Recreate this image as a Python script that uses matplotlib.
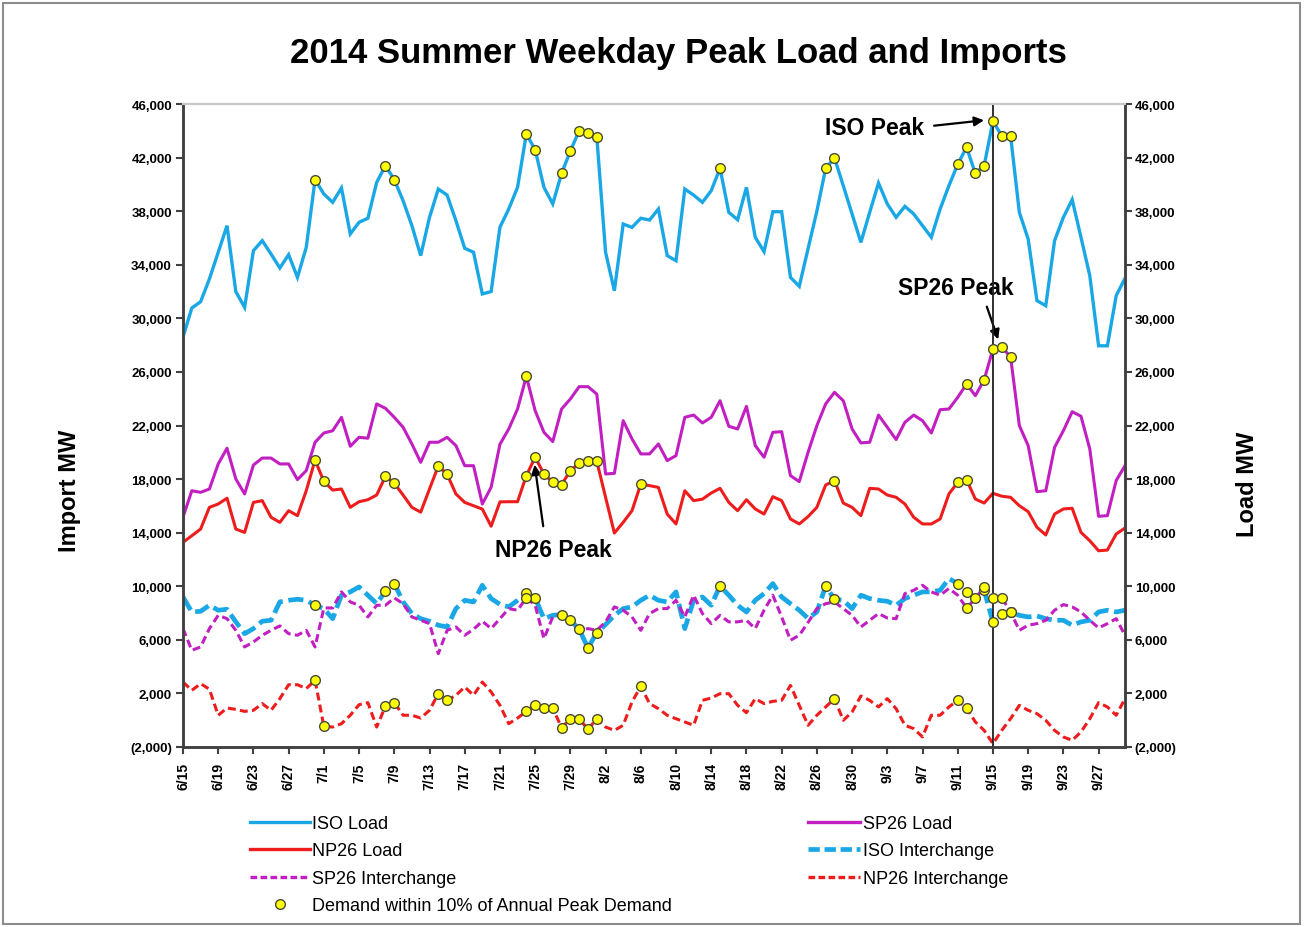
import numpy as np
import matplotlib
matplotlib.use("Agg")
import matplotlib.pyplot as plt
from matplotlib.lines import Line2D
from matplotlib.patches import Rectangle

plt.rcParams['font.family'] = ['Liberation Sans', 'DejaVu Sans']

# ---------------- data (daily, 6/15 .. 9/30) ----------------
tick_labels = ['6/15', '6/19', '6/23', '6/27', '7/1', '7/5', '7/9', '7/13', '7/17',
               '7/21', '7/25', '7/29', '8/2', '8/6', '8/10', '8/14', '8/18', '8/22',
               '8/26', '8/30', '9/3', '9/7', '9/11', '9/15', '9/19', '9/23', '9/27']

iso_load = [28600, 30770, 31240, 32940, 34930, 36920, 31990, 30820, 35050, 35800,
            34800, 33760, 34750, 33060, 35300, 40350, 39280, 38660, 39730, 36300,
            37170, 37470, 40150, 41400, 40350, 38780, 36920, 34680, 37540, 39650,
            39200, 37290, 35230, 34930, 31820, 32000, 36800, 38160, 39780, 43760,
            42590, 39780, 38540, 40820, 42490, 44010, 43840, 43560, 34930, 32060,
            37040, 36790, 37470, 37340, 38160, 34680, 34300, 39650, 39200, 38660,
            39530, 41200, 37910, 37360, 39780, 36050, 34980, 37960, 37960, 33060,
            32390, 35200, 38000, 41200, 41970, 39900, 37790, 35670, 37910, 40100,
            38540, 37540, 38360, 37790, 36920, 36050, 38160, 39900, 41500, 42770,
            40820, 41400, 44700, 43640, 43640, 37910, 35920, 31320, 30940, 35800,
            37540, 38860, 36050, 33190, 27950, 27950, 31690, 32990]

sp26_load = [15150, 17130, 17010, 17260, 19130, 20300, 18010, 16890, 19050, 19570,
             19570, 19130, 19130, 17960, 18630, 20750, 21440, 21610, 22610, 20450,
             21120, 21050, 23610, 23280, 22610, 21870, 20620, 19250, 20750, 20750,
             21120, 20500, 19000, 19000, 16140, 17390, 20600, 21740, 23230, 25670,
             23110, 21490, 20800, 23230, 23980, 24900, 24900, 24350, 18380, 18430,
             22360, 21000, 19880, 19880, 20620, 19380, 19750, 22610, 22780, 22190,
             22610, 23850, 21940, 21740, 23430, 20500, 19630, 21490, 21540, 18260,
             17810, 20000, 21990, 23610, 24480, 23850, 21740, 20700, 20750, 22780,
             21870, 20950, 22240, 22780, 22360, 21440, 23180, 23230, 24100, 25100,
             24230, 25400, 27710, 27840, 27140, 21990, 20500, 17060, 17130, 20370,
             21610, 23030, 22690, 20250, 15220, 15270, 17890, 19000]

np26_load = [13280, 13770, 14270, 15890, 16140, 16570, 14270, 14020, 16260, 16390,
             15150, 14770, 15640, 15270, 17130, 19420, 17830, 17180, 17260, 15890,
             16310, 16460, 16810, 18210, 17690, 16810, 15890, 15530, 17260, 18980,
             18360, 16890, 16260, 16010, 15760, 14480, 16300, 16310, 16310, 18260,
             19630, 18380, 17760, 17590, 18630, 19180, 19330, 19330, 16640, 13970,
             14770, 15640, 17630, 17510, 17380, 15390, 14650, 17130, 16390, 16500,
             16960, 17310, 16260, 15640, 16460, 15770, 15390, 16690, 16390, 15020,
             14650, 15200, 15890, 17560, 17880, 16210, 15890, 15270, 17310, 17260,
             16810, 16640, 16140, 15150, 14650, 14650, 15020, 16890, 17760, 17960,
             16510, 16210, 16940, 16720, 16640, 16010, 15570, 14400, 13830, 15390,
             15770, 15820, 14020, 13400, 12650, 12700, 13900, 14350]

iso_int = [9200, 8080, 8130, 8580, 8210, 8280, 7340, 6460, 6840, 7390,
           7460, 8830, 8950, 9030, 8950, 8580, 8330, 7580, 9330, 9580,
           9950, 9330, 8700, 9630, 10200, 8830, 7960, 7580, 7390, 7090,
           6960, 8330, 8950, 8830, 10070, 9080, 8650, 8460, 8950, 9500,
           9130, 7580, 7830, 7880, 7460, 6790, 5390, 6540, 7140, 7830,
           8330, 8460, 8950, 9330, 8950, 8830, 9580, 6840, 8950, 9200,
           8580, 10020, 9330, 8580, 8080, 8950, 9450, 10200, 9200, 8700,
           8210, 7600, 8080, 10020, 9030, 8950, 8330, 9330, 9080, 8950,
           8880, 8580, 9080, 9330, 9580, 9580, 9700, 10570, 10200, 9580,
           9130, 9700, 7340, 7960, 8080, 7830, 7710, 7780, 7580, 7460,
           7460, 7090, 7340, 7460, 8080, 8210, 8080, 8210]

sp26_int = [6840, 5220, 5470, 6840, 7830, 7580, 6710, 5470, 5840, 6340,
            6710, 7040, 6460, 6340, 6710, 5470, 8380, 8380, 9580, 8830,
            8580, 7710, 8580, 8580, 9130, 8700, 7710, 7460, 7210, 4970,
            6710, 6960, 6340, 6790, 7390, 6840, 7580, 8330, 8210, 9130,
            8580, 6090, 7710, 7960, 7460, 6710, 6840, 6710, 7340, 8460,
            8210, 7710, 6710, 7960, 8330, 8330, 8950, 7710, 9330, 7960,
            7210, 7830, 7340, 7340, 7460, 6840, 8210, 9330, 7710, 5970,
            6340, 7300, 8330, 8700, 8830, 8330, 7830, 6960, 7460, 7960,
            7630, 7580, 9450, 9700, 10070, 9580, 9330, 9830, 9330, 8380,
            9080, 9950, 9130, 9130, 8080, 6710, 7090, 7210, 7460, 8210,
            8630, 8460, 8080, 7460, 6890, 7210, 7580, 6340]

np26_int = [2850, 2230, 2730, 2310, 370, 910, 810, 660, 740, 1240,
            740, 1610, 2650, 2650, 2360, 2980, -460, -510, -260, 370,
            1160, 1310, -510, 1040, 1310, 370, 370, 160, 740, 1980,
            1480, 1860, 2480, 1860, 2850, 2110, 1110, -260, 160, 660,
            1110, 910, 910, -560, 110, 110, -680, 110, -510, -760,
            -380, 1360, 2530, 1240, 860, 370, 110, -130, -380, 1480,
            1660, 1980, 1980, 1110, 560, 1610, 1240, 1410, 1480, 2600,
            1110, -380, 370, 990, 1610, -10, 610, 1810, 1480, 990,
            1610, 860, -380, -630, -1250, 370, 370, 990, 1480, 910,
            -130, -760, -1750, -760, 110, 1110, 740, 490, -10, -760,
            -1250, -1500, -880, 110, 1310, 990, 370, 1610]

# days whose demand is within 10% of the annual peak, per area
iso_peak_days = [15, 23, 24, 39, 40, 43, 44, 45, 46, 47, 61, 73, 74, 88, 89, 90, 91, 92, 93, 94]
np26_peak_days = [15, 16, 23, 24, 29, 30, 39, 40, 41, 42, 43, 44, 45, 46, 47, 52, 74, 88, 89]
sp26_peak_days = [39, 89, 91, 92, 93, 94]
peak_day = 92  # 9/15

y_ticks = list(range(-2000, 46001, 4000))

# ---------------- styling ----------------
C_ISO = '#1AA7E6'
C_SP = '#C21FC2'
C_NP = '#EE1C1C'
MK = dict(marker='o', markersize=7, markerfacecolor='#FFFF00',
          markeredgecolor='#4A4A3A', markeredgewidth=1.0, linestyle='none', zorder=6)

fig = plt.figure(figsize=(13.05, 9.28), dpi=100)
ax = fig.add_axes([183 / 1305, 1 - 748 / 928, (1125 - 183) / 1305, (748 - 105) / 928])

x = np.arange(len(iso_load))

ax.plot(x, iso_load, color=C_ISO, lw=2.4, solid_joinstyle='miter', zorder=3)
ax.plot(x, sp26_load, color=C_SP, lw=2.2, zorder=3)
ax.plot(x, np26_load, color=C_NP, lw=2.2, zorder=3)
ax.plot(x, iso_int, color=C_ISO, lw=3.4, linestyle=(0, (3.2, 1.2)), zorder=2)
ax.plot(x, sp26_int, color=C_SP, lw=2.2, linestyle=(0, (2.6, 1.4)), zorder=3)
ax.plot(x, np26_int, color=C_NP, lw=2.2, linestyle=(0, (2.6, 1.4)), zorder=3)

ia = np.array
ax.plot(iso_peak_days, ia(iso_load)[iso_peak_days], **MK)
ax.plot(iso_peak_days, ia(iso_int)[iso_peak_days], **MK)
ax.plot(np26_peak_days, ia(np26_load)[np26_peak_days], **MK)
ax.plot(np26_peak_days, ia(np26_int)[np26_peak_days], **MK)
ax.plot(sp26_peak_days, ia(sp26_load)[sp26_peak_days], **MK)
ax.plot(sp26_peak_days, ia(sp26_int)[sp26_peak_days], **MK)

ax.axvline(peak_day, color='#202020', lw=1.3, zorder=4)

ax.set_xlim(0, len(iso_load) - 1)
ax.set_ylim(-2000, 46000)


def fmt(v):
    return f"{v:,.0f}" if v >= 0 else f"({-v:,.0f})"


ax.set_yticks(y_ticks)
ax.set_yticklabels([fmt(v) for v in y_ticks], fontsize=9.5, fontweight='bold')
ax.set_xticks(np.arange(0, len(iso_load), 4)[:len(tick_labels)])
ax.set_xticklabels(tick_labels, rotation=90, fontsize=10, fontweight='bold')
ax.tick_params(axis='both', direction='out', length=5, width=1.5, color='#404040')
ax.tick_params(axis='y', pad=3)
ax.tick_params(axis='x', pad=6)

ax2 = ax.twinx()
ax2.set_ylim(-2000, 46000)
ax2.set_yticks(y_ticks)
ax2.set_yticklabels([fmt(v) for v in y_ticks], fontsize=9.5, fontweight='bold')
ax2.tick_params(axis='y', direction='out', length=5, width=1.5, color='#404040', pad=2)

for a in (ax, ax2):
    for s in ('left', 'right', 'bottom'):
        a.spines[s].set_color('#404040')
        a.spines[s].set_linewidth(1.8)
    a.spines['top'].set_color('#C8C8C8')
    a.spines['top'].set_linewidth(1.5)

ax.set_ylabel('Import MW', fontsize=17, fontweight='bold')
ax.yaxis.set_label_coords(-0.108, 0.40)
ax2.set_ylabel('Load MW', fontsize=17, fontweight='bold')
ax2.yaxis.set_label_coords(1.118, 0.41)

fig.text(678 / 1305, 1 - 53 / 928, '2014 Summer Weekday Peak Load and Imports',
         ha='center', va='center', fontsize=25, fontweight='bold')

# annotations
arw = dict(arrowstyle='-|>', color='black', lw=1.6, mutation_scale=14)
ax.text(78.6, 44283, 'ISO Peak', ha='center', va='center', fontsize=16.5, fontweight='bold')
ax.annotate('', xy=(91.3, 44806), xytext=(85.0, 44358), arrowprops=arw)
ax.text(87.8, 32339, 'SP26 Peak', ha='center', va='center', fontsize=16.5, fontweight='bold')
ax.annotate('', xy=(92.7, 28233), xytext=(91.2, 31070), arrowprops=arw)
ax.text(42.1, 12780, 'NP26 Peak', ha='center', va='center', fontsize=16.5, fontweight='bold')
ax.annotate('', xy=(39.9, 19274), xytext=(40.96, 14274), arrowprops=arw)

# legends
leg_font = {'family': ['Liberation Sans', 'DejaVu Sans'], 'size': 13}
h_iso = Line2D([], [], color=C_ISO, lw=2.4)
h_np = Line2D([], [], color=C_NP, lw=2.4)
h_spi = Line2D([], [], color=C_SP, lw=2.4, linestyle=(0, (2.0, 1.0)))
h_mk = Line2D([], [], **MK)
h_sp = Line2D([], [], color=C_SP, lw=2.4)
h_isoi = Line2D([], [], color=C_ISO, lw=3.4, linestyle=(0, (2.4, 1.0)))
h_npi = Line2D([], [], color=C_NP, lw=2.4, linestyle=(0, (2.0, 1.0)))

leg1 = fig.legend([h_iso, h_np, h_spi, h_mk],
                  ['ISO Load', 'NP26 Load', 'SP26 Interchange',
                   'Demand within 10% of Annual Peak Demand'],
                  loc='upper left', bbox_to_anchor=(250 / 1305, 1 - 816 / 928),
                  frameon=False, prop=leg_font, handlelength=3.3, handletextpad=0.15,
                  labelspacing=0.58, borderpad=0, borderaxespad=0)
leg2 = fig.legend([h_sp, h_isoi, h_npi],
                  ['SP26 Load', 'ISO Interchange', 'NP26 Interchange'],
                  loc='upper left', bbox_to_anchor=(808 / 1305, 1 - 816 / 928),
                  frameon=False, prop=leg_font, handlelength=2.9, handletextpad=0.15,
                  labelspacing=0.58, borderpad=0, borderaxespad=0)

fig.patches.append(Rectangle((0.002, 0.003), 0.994, 0.993, transform=fig.transFigure,
                             fill=False, edgecolor='#8C8C8C', lw=1.5))

fig.savefig('out.png', dpi=100)
